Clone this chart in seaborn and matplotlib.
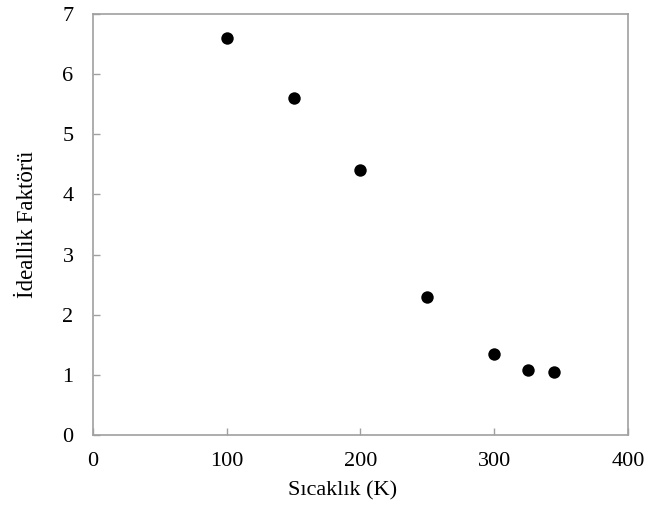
import matplotlib
matplotlib.use("Agg")
import matplotlib.pyplot as plt
import seaborn as sns
import pandas as pd

temperature = [100, 150, 200, 250, 300, 325, 345]
ideality = [6.6, 5.6, 4.4, 2.3, 1.35, 1.08, 1.05]
x_ticks = [0, 100, 200, 300, 400]
y_ticks = [0, 1, 2, 3, 4, 5, 6, 7]

sns.set_style("white")
plt.rcParams['font.family'] = ['Liberation Serif', 'DejaVu Serif']

df = pd.DataFrame({"T": temperature, "n": ideality})

fig = plt.figure(figsize=(6.49, 5.12), dpi=100)
ax = fig.add_axes([93/649, 1 - 435/512, (628-93)/649, (435-14)/512])
sns.scatterplot(data=df, x="T", y="n", ax=ax, color="black", s=80,
                edgecolor="black", linewidth=0, zorder=3)

ax.set_xlim(0, 400)
ax.set_ylim(0, 7)
ax.set_xticks(x_ticks)
ax.set_yticks(y_ticks)
ax.set_xlabel("Sıcaklık (K)", fontsize=16, color="black")
ax.set_ylabel("İdeallik Faktörü", fontsize=16.5, color="black")
ax.xaxis.set_label_coords((343-93)/535, (435-481)/421)
ax.yaxis.set_label_coords((38-93)/535, 0.5)
ax.tick_params(axis="both", direction="in", length=5, width=1, color="#a0a0a0",
               labelsize=16, labelcolor="black", bottom=True, left=True, top=False, right=False)
ax.tick_params(axis="x", pad=12)
ax.tick_params(axis="y", pad=14)
for sp in ax.spines.values():
    sp.set_visible(True)
    sp.set_color("#a0a0a0")
    sp.set_linewidth(1.2)

fig.savefig("out.png", dpi=100)
